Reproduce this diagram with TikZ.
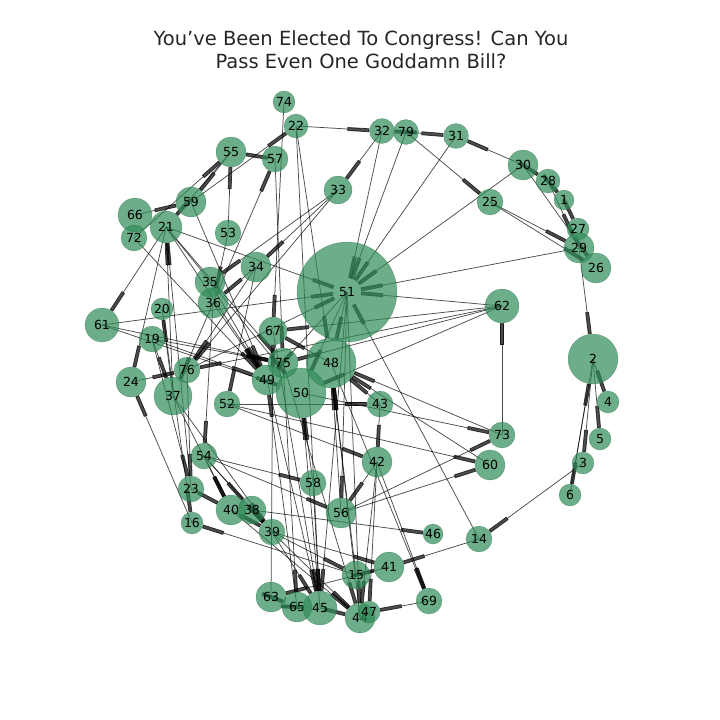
\documentclass[tikz,border=0pt]{standalone}
\usepackage{fontspec}
\setmainfont{DejaVu Sans}
\usetikzlibrary{arrows.meta,backgrounds}
\definecolor{seagreen}{rgb}{0.18,0.545,0.341}
\definecolor{titlegray}{rgb}{0.15,0.15,0.15}

\begin{document}
\begin{tikzpicture}[x=1pt,y=-1pt,
  vertex/.style={circle,inner sep=0pt,minimum size=#1,fill=seagreen,fill opacity=0.7,
    draw=seagreen!70!black,draw opacity=0.4,line width=0.4pt,text opacity=1,
    font=\fontsize{12.5}{14}\selectfont},
  link/.style={draw=black,opacity=0.7,line width=0.75pt,
    -{Rectangle[length=22pt,width=3.8pt]}},
  hublink/.style={link,shorten >=-36pt}]

\useasboundingbox (0,0) rectangle (720,720);

\node[font=\fontsize{19.5}{23}\selectfont,align=center,text=titlegray] (title) at (361,50)
  {You’ve Been Elected To Congress! Can You\\Pass Even One Goddamn Bill?};

% nodes, positions in pixels
\foreach \n/\x/\y/\d in {74/284/102/22, 22/296/126/24, 32/382/131/25, 79/406/132/25,
  31/456/136/25, 55/231/152/30, 57/275/159/26, 30/523/165/30, 28/548/181/24,
  1/564/200/20, 33/338/190/28, 25/490/202/26, 59/191/202/30, 66/135/215/34,
  21/166/227/32, 72/134/238/26, 53/228/233/26, 27/578/229/22, 29/579/248/30,
  26/596/268/30, 34/256/267/30, 35/210/282/30, 51/347/292/100, 36/213/303/30,
  62/502/306/34, 20/162/309/22, 61/102/325/34, 67/273/331/28, 19/152/339/26,
  2/593/359/50, 75/283/363/30, 48/331/363/50, 76/187/370/26, 49/267/380/30,
  24/131/382/30, 50/301/393/50, 37/173/396/38, 4/608/402/22, 52/227/404/26,
  43/380/404/26, 5/600/439/22, 73/502/435/26, 54/204/456/26, 42/377/462/30,
  3/583/463/22, 60/490/465/30, 58/313/483/26, 23/191/489/26, 6/570/495/22,
  40/231/510/30, 38/252/510/28, 56/341/513/30, 16/192/523/22, 39/272/532/26,
  46/433/534/20, 14/479/539/26, 41/389/567/30, 15/356/575/28, 63/271/597/30,
  65/297/607/30, 45/320/608/34, 44/360/618/30, 47/369/612/22, 69/429/601/26}
  \node[vertex=\d pt] (n\n) at (\x,\y) {\n};

% links, source/target
\begin{scope}[on background layer]
\foreach \a in {32, 79, 31, 30, 29, 21, 61, 62, 76, 14}
  \draw[hublink] (n\a.center) -- (n51);
\foreach \a/\b in {74/67, 22/45, 22/48, 59/22, 22/32, 79/32, 79/31, 30/31, 32/33,
  79/25, 30/28, 28/1, 1/27, 30/26, 28/29, 25/29, 25/26,
  29/2, 57/55, 53/55, 55/59, 55/21, 36/57, 57/75, 33/34, 33/35, 33/76,
  21/61, 21/75, 21/49, 21/50, 37/21, 23/21, 21/24, 72/55, 66/59, 72/49,
  61/75, 61/50, 24/76, 62/67, 62/75, 62/76, 62/50, 19/37, 19/75,
  19/49, 37/20, 36/37, 34/36, 34/76, 34/52, 35/49, 36/49, 51/45, 51/44,
  51/56, 51/50, 51/48, 51/49, 73/48, 60/48, 52/43, 45/50, 65/49, 44/48, 56/48,
  58/50, 15/48, 43/48, 48/67, 52/42, 54/58, 54/56, 56/73, 56/60, 38/46, 15/16,
  41/63, 63/65, 65/45, 45/44, 69/47, 15/41, 42/47, 14/41, 3/14, 2/3, 2/4,
  2/5, 2/6, 6/2, 73/62, 50/73, 52/60, 37/39, 37/40, 76/23, 16/24, 36/54, 54/40,
  54/38, 54/39, 23/40, 40/39, 38/39, 39/45, 39/44, 40/44, 39/41, 39/15, 58/45,
  63/67, 43/42, 42/56, 42/44, 48/69, 42/69, 67/45, 75/44, 49/45, 75/65, 59/49,
  53/36, 20/16, 19/23}
  \draw[link] (n\a.center) -- (n\b);
\end{scope}

\end{tikzpicture}
\end{document}
